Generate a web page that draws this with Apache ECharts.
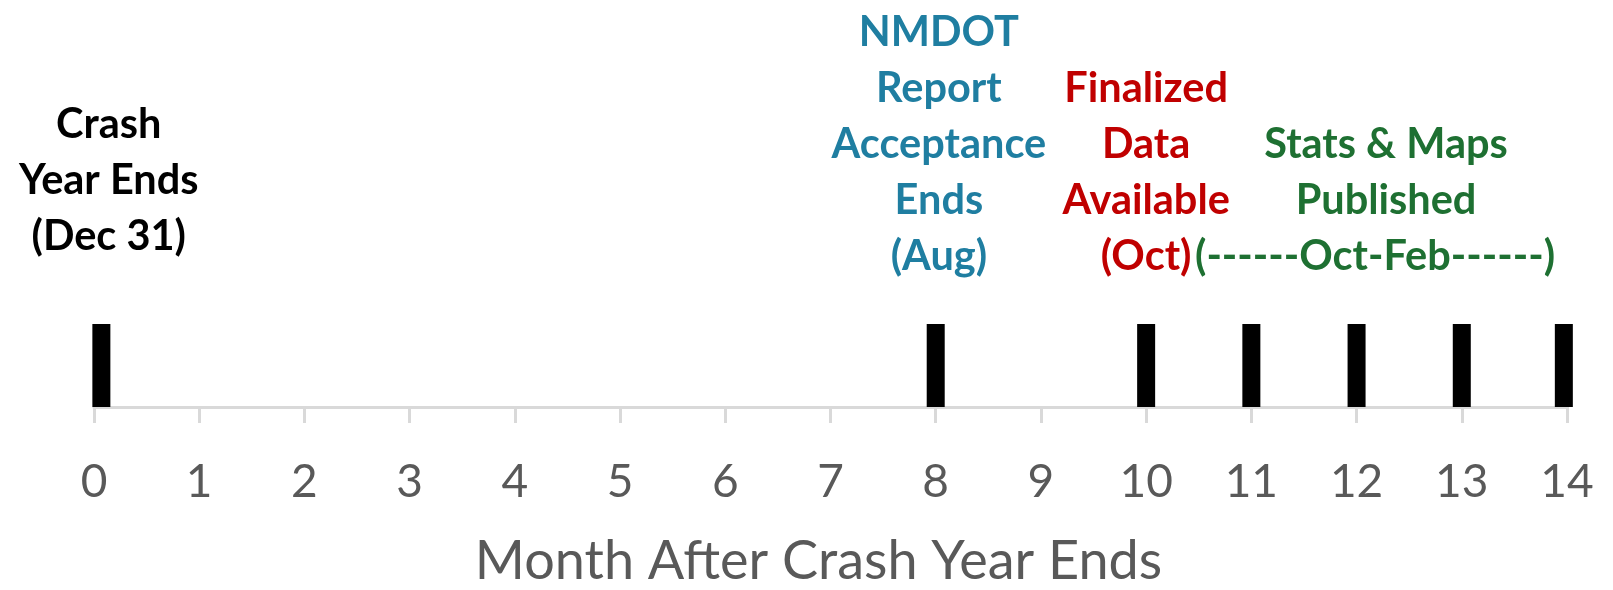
<!DOCTYPE html>
<html>
<head>
<meta charset="utf-8">
<script src="https://cdn.jsdelivr.net/npm/echarts@6/dist/echarts.min.js"></script>
<style>html,body{margin:0;padding:0;background:#fff}#c{width:1613px;height:590px}</style>
</head>
<body>
<div id="c"></div>
<script>
// Data
const eventMonths = [0.07, 8, 10, 11, 12, 13, 13.97];
const eventHeights = [1, 1, 1, 1, 1, 1, 1];
const annotationText = [
  'Crash\nYear Ends\n(Dec 31)',
  'NMDOT\nReport\nAcceptance\nEnds\n(Aug)',
  'Finalized\nData\nAvailable\n(Oct)',
  'Stats & Maps\nPublished\n{shift|(------Oct-Feb------)}'
];
const annotationMonths = [0.14, 8.03, 10.0, 12.28];
const annotationColors = ['#000000', '#1F7EA1', '#C00000', '#1E7032'];
const xTicks = [0,1,2,3,4,5,6,7,8,9,10,11,12,13,14];
const xAxisTitle = 'Month After Crash Year Ends';

const chart = echarts.init(document.getElementById('c'), null, {renderer: 'canvas'});
const FONT = 'Lato, "Open Sans", sans-serif';

const annData = annotationText.map((t, i) => ({
  value: [annotationMonths[i], 1],
  label: {
    show: true,
    formatter: t,
    color: annotationColors[i],
    distance: i === 0 ? 59 : 39,
    rich: {
      shift: {
        color: annotationColors[i],
        fontFamily: FONT,
        fontWeight: 'bold',
        fontSize: 41.5,
        lineHeight: 56,
        padding: [0, 22, 0, 0]
      }
    }
  }
}));

chart.setOption({
  animation: false,
  grid: {left: 94, right: 46, top: 324, bottom: 175, containLabel: false},
  xAxis: {
    type: 'value',
    min: xTicks[0],
    max: xTicks[xTicks.length - 1],
    interval: 1,
    splitLine: {show: false},
    axisLine: {show: true, lineStyle: {color: '#d9d9d9', width: 3}},
    axisTick: {show: true, inside: false, length: 16, lineStyle: {color: '#d9d9d9', width: 3}},
    axisLabel: {color: '#595959', fontFamily: FONT, fontSize: 46, margin: 52},
    name: xAxisTitle,
    nameLocation: 'middle',
    nameGap: 128,
    nameTextStyle: {color: '#595959', fontFamily: FONT, fontSize: 54, padding: [0, 24, 0, 0]}
  },
  yAxis: {
    type: 'value', min: 0, max: 1, show: false
  },
  series: [
    {
      type: 'bar',
      barWidth: 18,
      itemStyle: {color: '#000000'},
      data: eventMonths.map((m, i) => [m, eventHeights[i]]),
      z: 3
    },
    {
      type: 'scatter',
      symbolSize: 0,
      clip: false,
      silent: true,
      itemStyle: {opacity: 1},
      label: {
        show: true,
        position: 'top',
        fontFamily: FONT,
        fontWeight: 'bold',
        fontSize: 41.5,
        lineHeight: 56,
        align: 'center'
      },
      data: annData
    }
  ]
});
</script>
</body>
</html>
